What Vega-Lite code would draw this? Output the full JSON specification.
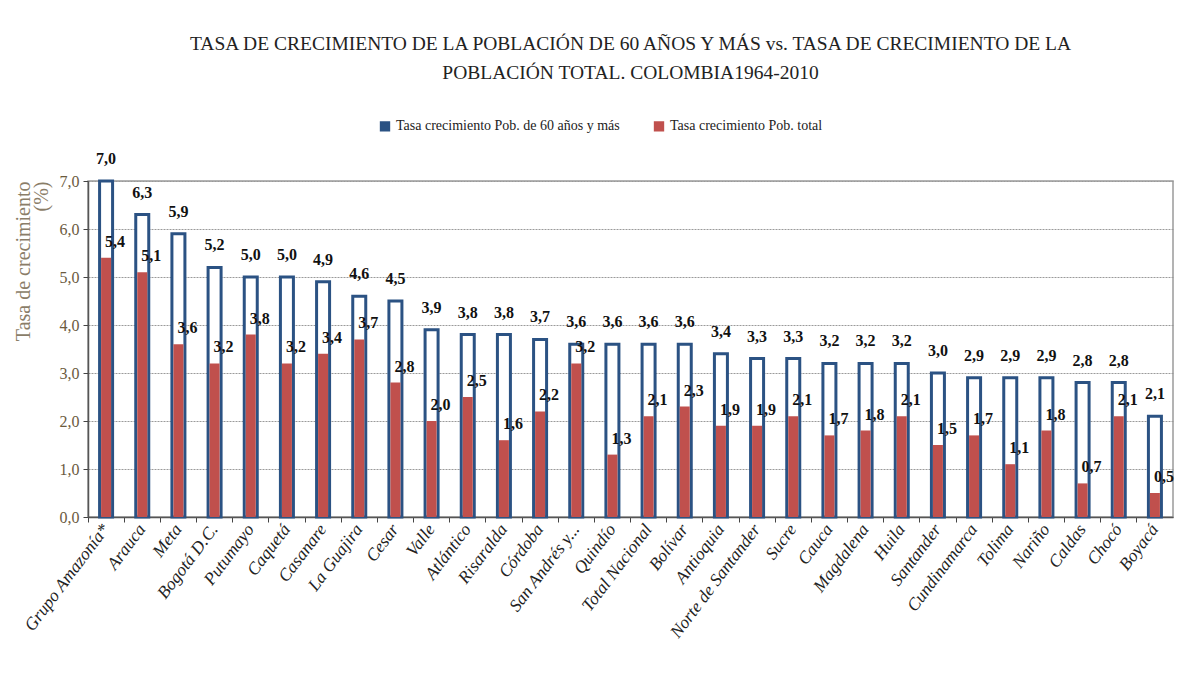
{
  "$schema": "https://vega.github.io/schema/vega-lite/v6.json",
  "width": 1085,
  "height": 336,
  "autosize": "none",
  "padding": {"left": 88, "top": 181, "right": 6, "bottom": 175},
  "background": "white",
  "title": {
    "text": ["TASA DE CRECIMIENTO DE LA POBLACIÓN DE 60 AÑOS Y MÁS vs. TASA DE CRECIMIENTO DE LA", "POBLACIÓN TOTAL. COLOMBIA1964-2010"],
    "font": "Liberation Serif",
    "fontSize": 19.5,
    "fontWeight": "normal",
    "color": "#222222",
    "lineHeight": 29,
    "anchor": "middle",
    "offset": 36
  },
  "data": {
    "values": [
      {"depto": "Grupo Amazonía*", "p60": 7.0, "total": 5.4},
      {"depto": "Arauca", "p60": 6.3, "total": 5.1},
      {"depto": "Meta", "p60": 5.9, "total": 3.6},
      {"depto": "Bogotá D.C.", "p60": 5.2, "total": 3.2},
      {"depto": "Putumayo", "p60": 5.0, "total": 3.8},
      {"depto": "Caquetá", "p60": 5.0, "total": 3.2},
      {"depto": "Casanare", "p60": 4.9, "total": 3.4},
      {"depto": "La Guajira", "p60": 4.6, "total": 3.7},
      {"depto": "Cesar", "p60": 4.5, "total": 2.8},
      {"depto": "Valle", "p60": 3.9, "total": 2.0},
      {"depto": "Atlántico", "p60": 3.8, "total": 2.5},
      {"depto": "Risaralda", "p60": 3.8, "total": 1.6},
      {"depto": "Córdoba", "p60": 3.7, "total": 2.2},
      {"depto": "San Andrés y...", "p60": 3.6, "total": 3.2},
      {"depto": "Quindío", "p60": 3.6, "total": 1.3},
      {"depto": "Total Nacional", "p60": 3.6, "total": 2.1},
      {"depto": "Bolívar", "p60": 3.6, "total": 2.3},
      {"depto": "Antioquia", "p60": 3.4, "total": 1.9},
      {"depto": "Norte de Santander", "p60": 3.3, "total": 1.9},
      {"depto": "Sucre", "p60": 3.3, "total": 2.1},
      {"depto": "Cauca", "p60": 3.2, "total": 1.7},
      {"depto": "Magdalena", "p60": 3.2, "total": 1.8},
      {"depto": "Huila", "p60": 3.2, "total": 2.1},
      {"depto": "Santander", "p60": 3.0, "total": 1.5},
      {"depto": "Cundinamarca", "p60": 2.9, "total": 1.7},
      {"depto": "Tolima", "p60": 2.9, "total": 1.1},
      {"depto": "Nariño", "p60": 2.9, "total": 1.8},
      {"depto": "Caldas", "p60": 2.8, "total": 0.7},
      {"depto": "Chocó", "p60": 2.8, "total": 2.1},
      {"depto": "Boyacá", "p60": 2.1, "total": 0.5}
    ]
  },
  "encoding": {
    "x": {
      "field": "depto",
      "type": "nominal",
      "sort": null,
      "scale": {"paddingInner": 0, "paddingOuter": 0},
      "axis": {
        "title": null,
        "labelAngle": -53,
        "labelAlign": "right",
        "labelBaseline": "middle",
        "labelFont": "Liberation Serif",
        "labelFontStyle": "italic",
        "labelFontSize": 17.5,
        "labelColor": "#222222",
        "labelPadding": 4,
        "labelOverlap": false,
        "labelLimit": 300,
        "bandPosition": 0,
        "tickColor": "#444444",
        "tickSize": 5,
        "domainColor": "#555555",
        "domainWidth": 1.5
      }
    }
  },
  "layer": [
    {
      "mark": {"type": "bar", "filled": false, "fill": "white", "strokeWidth": 3, "size": 13},
      "encoding": {
        "y": {
          "field": "p60",
          "type": "quantitative",
          "scale": {"domain": [0, 7], "nice": false},
          "axis": {
            "title": ["Tasa de crecimiento", "(%)"],
            "titleFont": "Liberation Serif",
            "titleFontSize": 20,
            "titleFontWeight": "normal",
            "titleColor": "#8a7d68",
            "titleAnchor": "end",
            "titlePadding": 8,
            "titleLineHeight": 18,
            "values": [0, 1, 2, 3, 4, 5, 6, 7],
            "format": ".1f",
            "labelFont": "Liberation Serif",
            "labelFontSize": 16,
            "labelColor": "#6b5a3e",
            "labelPadding": 4,
            "tickColor": "#444444",
            "tickSize": 5,
            "domainColor": "#555555",
            "domainWidth": 1.5,
            "grid": true,
            "gridColor": "#9a9a9a",
            "gridDash": [2, 1],
            "gridWidth": 1
          }
        },
        "color": {
          "datum": "Tasa crecimiento Pob. de 60 años y más",
          "type": "nominal",
          "scale": {
            "domain": ["Tasa crecimiento Pob. de 60 años y más", "Tasa crecimiento Pob. total"],
            "range": ["#2b5283", "#c0504d"]
          },
          "legend": {
            "title": null,
            "orient": "none",
            "legendX": 290,
            "legendY": -62,
            "direction": "horizontal",
            "symbolType": "square",
            "symbolSize": 70,
            "symbolStrokeWidth": 2,
            "labelFont": "Liberation Serif",
            "labelFontSize": 14,
            "labelColor": "#222222",
            "labelLimit": 400,
            "columnPadding": 30
          }
        }
      }
    },
    {
      "mark": {"type": "bar", "size": 10},
      "encoding": {
        "y": {"field": "total", "type": "quantitative"},
        "color": {"datum": "Tasa crecimiento Pob. total", "type": "nominal"}
      }
    },
    {
      "mark": {"type": "text", "baseline": "bottom", "dy": -14, "font": "Liberation Serif", "fontSize": 16, "fontWeight": "bold", "color": "#111111"},
      "encoding": {
        "y": {"field": "p60", "type": "quantitative"},
        "text": {"field": "p60", "type": "quantitative", "format": ".1f"}
      }
    },
    {
      "mark": {"type": "text", "baseline": "bottom", "dy": -8, "dx": 9, "font": "Liberation Serif", "fontSize": 16, "fontWeight": "bold", "color": "#111111"},
      "encoding": {
        "y": {"field": "total", "type": "quantitative"},
        "text": {"field": "total", "type": "quantitative", "format": ".1f"}
      }
    }
  ],
  "config": {
    "locale": {"number": {"decimal": ",", "thousands": ".", "grouping": [3], "currency": ["", " €"]}},
    "view": {"stroke": "#9a9a9a", "strokeWidth": 1.5}
  }
}
